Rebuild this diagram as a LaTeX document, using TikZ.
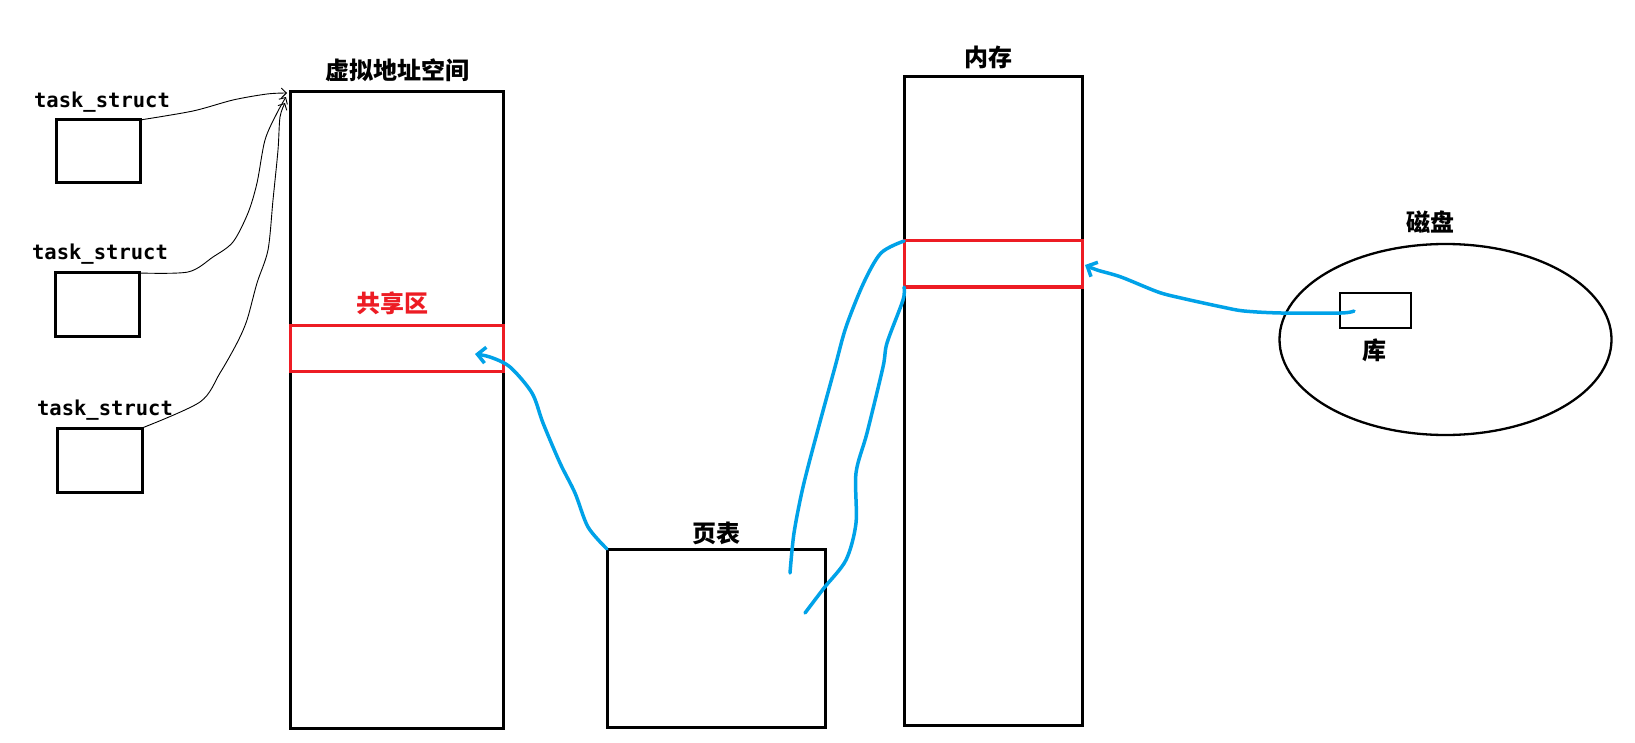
\documentclass[tikz,border=0pt]{standalone}
\usepackage{fontspec}
\newfontfamily\cjk{Noto Sans CJK SC}
\newfontfamily\monof{DejaVu Sans Mono}
\usetikzlibrary{arrows.meta,shapes.geometric}
\definecolor{pblue}{RGB}{0,162,232}
\definecolor{pred}{RGB}{237,28,36}
\begin{document}
\begin{tikzpicture}[x=1pt,y=-1pt,
  box/.style={draw=black,line width=3pt,inner sep=0pt,outer sep=0pt},
  redbox/.style={draw=pred,line width=3pt,inner sep=0pt,outer sep=0pt},
  cjklabel/.style={font=\cjk\bfseries\fontsize{24pt}{24pt}\selectfont,inner sep=0pt},
  tslabel/.style={font=\monof\bfseries\fontsize{20.5pt}{20.5pt}\selectfont,inner sep=0pt,anchor=base},
  thinarrow/.style={draw=black,line width=0.9pt,-{Straight Barb[length=5pt,width=10pt]}},
  bluecurve/.style={draw=pblue,line width=3.5pt,line cap=round,line join=round},
  bluetip/.style={-{Straight Barb[length=8pt,width=16pt]}}
]
\useasboundingbox[fill=white] (0,0) rectangle (1635,743);

% boxes
\node[box,minimum width=213pt,minimum height=636pt] (vas) at (396.8,410) {};
\node[redbox,minimum width=213pt,minimum height=46pt] (shared) at (396.8,348) {};
\node[box,minimum width=84pt,minimum height=63pt] (b1) at (98,151.5) {};
\node[box,minimum width=84pt,minimum height=63pt] (b2) at (97,304.5) {};
\node[box,minimum width=85pt,minimum height=64pt] (b3) at (99.5,460) {};
\node[box,minimum width=218pt,minimum height=178pt] (pt) at (716,638) {};
\node[box,minimum width=178pt,minimum height=648pt] (mem) at (993,401) {};
\node[redbox,minimum width=178pt,minimum height=46pt] (memred) at (993,264) {};
\node[draw,ellipse,line width=2.3pt,minimum width=332pt,minimum height=191pt,inner sep=0pt] (disk) at (1445.5,339.5) {};
\node[box,line width=2.7pt,minimum width=71pt,minimum height=35pt] (lib) at (1375.5,310.5) {};

% labels
\node[cjklabel] (tvas) at (397,70) {虚拟地址空间};
\node[cjklabel] (tmem) at (988,57) {内存};
\node[cjklabel,text=pred] (tshared) at (392,303) {共享区};
\node[cjklabel] (tpt) at (716,533) {页表};
\node[cjklabel] (tdisk) at (1430,222) {磁盘};
\node[cjklabel] (tlib) at (1374,350) {库};
\node[tslabel] (ts1) at (102,108) {task\_struct};
\node[tslabel] (ts2) at (100,260) {task\_struct};
\node[tslabel] (ts3) at (105,415) {task\_struct};

% free ends
\coordinate (e1) at (287,93);
\coordinate (e2) at (286,97);
\coordinate (e3) at (285,103);
\coordinate (c2s) at (790,573);
\coordinate (c3s) at (805,613);
\coordinate (c4s) at (1354,311);
\coordinate (c4e) at (1085,265);

% thin black arrows
\draw[thinarrow] plot[smooth,tension=0.5] coordinates {(b1.north east) (193,111) (233,100) (267,94) (e1)};
\draw[thinarrow] plot[smooth,tension=0.5] coordinates {(b2.north east) (188,272) (213,257) (233,242) (248,213) (257,183) (265,140) (277,113) (e2)};
\draw[thinarrow] plot[smooth,tension=0.5] coordinates {(b3.north east) (200,402) (220,373) (237,343) (247,320) (257,283) (268,250) (273,200) (278,150) (280,117) (e3)};

% blue curves
\draw[bluecurve,bluetip] plot[smooth,tension=0.5] coordinates {(pt.north west) (588,527) (575,493) (560,463) (543,423) (532,393) (510,367) (490,357) (475,354)};
\draw[bluecurve] plot[smooth,tension=0.5] coordinates {(c2s) (794,533) (803,487) (817,433) (835,367) (846,327) (863.6,283) (881,253) (memred.north west)};
\draw[bluecurve] plot[smooth,tension=0.5] coordinates {(c3s) (824,588) (846,560) (856,523) (856,473) (867,433) (883,367) (887,343) (903,300) (memred.south west)};
\draw[bluecurve,bluetip] plot[smooth,tension=0.5] coordinates {(c4s) (1341,313) (1281,313) (1244,311) (1222,307) (1181,298) (1158,292) (1121,277) (1097,270) (c4e)};
\end{tikzpicture}
\end{document}
